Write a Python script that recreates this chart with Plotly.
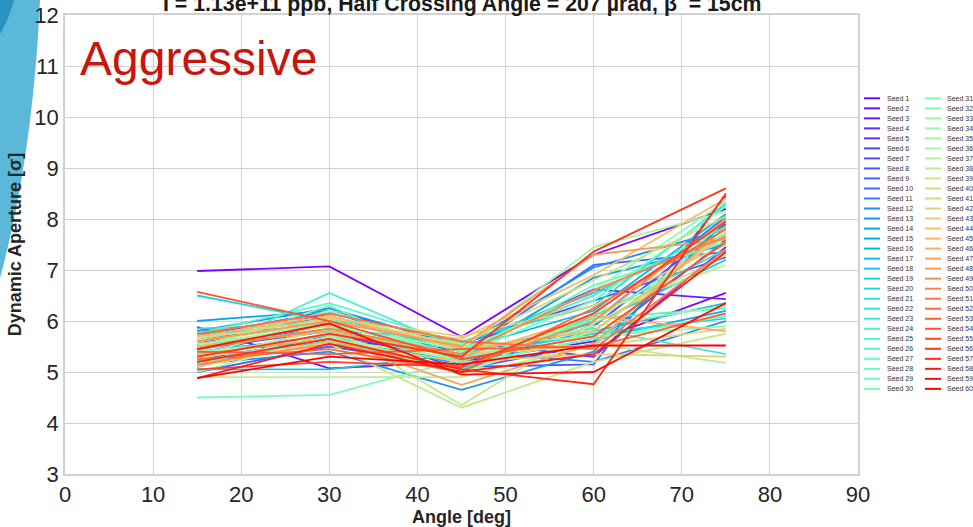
import math
import plotly.graph_objects as go

# ---------------- data ----------------
angles = [15, 30, 45, 60, 75]
seed_names = [f"Seed {i}" for i in range(1, 61)]

da_15 = [6.98, 5.88, 5.20, 5.55, 5.10, 5.35, 5.70, 5.00, 5.45, 5.25,
         5.60, 5.80, 5.15, 6.00, 5.40, 5.75, 5.30, 5.05, 6.50, 5.85,
         5.50, 5.20, 5.65, 5.35, 5.55, 5.75, 5.25, 5.45, 5.60, 4.50,
         5.30, 5.50, 5.15, 5.70, 5.40, 5.00, 4.90, 5.30, 5.55, 5.60,
         5.25, 5.65, 5.10, 5.45, 5.70, 5.50, 5.35, 5.60, 5.15, 5.45,
         5.75, 5.25, 5.40, 6.57, 5.05, 5.30, 5.20, 4.88, 5.45, 4.88]
da_30 = [7.07, 5.07, 5.60, 6.15, 5.75, 5.95, 6.20, 5.50, 5.80, 5.65,
         6.10, 6.25, 5.40, 6.20, 5.70, 5.90, 5.55, 5.05, 6.00, 5.95,
         5.85, 5.60, 6.05, 6.55, 5.80, 6.35, 5.85, 6.30, 5.95, 4.55,
         6.10, 6.20, 5.75, 5.90, 5.65, 5.70, 4.90, 5.55, 5.90, 6.00,
         5.85, 6.05, 5.60, 5.95, 6.10, 5.80, 5.65, 6.00, 5.55, 5.85,
         6.15, 5.45, 5.35, 6.00, 5.20, 5.75, 5.65, 5.55, 5.95, 5.30]
da_45 = [5.69, 5.20, 5.45, 5.60, 5.20, 5.05, 5.55, 5.10, 5.35, 5.00,
         5.40, 5.50, 4.65, 5.30, 5.15, 5.45, 5.25, 5.35, 5.55, 5.30,
         5.60, 5.05, 5.40, 5.45, 5.20, 5.55, 5.30, 5.15, 5.35, 5.25,
         5.50, 5.40, 5.00, 5.45, 5.25, 4.95, 4.90, 4.30, 4.35, 5.55,
         5.35, 5.70, 5.20, 5.65, 5.45, 5.30, 4.75, 5.50, 5.10, 5.35,
         5.60, 5.00, 5.45, 5.25, 5.10, 5.30, 5.05, 5.00, 4.95, 5.15]
da_60 = [7.30, 5.60, 6.62, 5.30, 5.90, 5.55, 6.40, 5.15, 7.10, 6.00,
         5.20, 7.05, 5.40, 6.85, 5.65, 6.20, 5.80, 5.95, 6.55, 5.75,
         6.30, 6.10, 5.85, 6.50, 6.05, 5.50, 6.70, 5.65, 6.40, 6.00,
         5.70, 6.60, 5.80, 7.45, 5.90, 6.15, 5.55, 5.20, 5.95, 6.80,
         5.50, 6.30, 5.35, 6.90, 5.80, 6.10, 5.55, 7.30, 6.00, 6.60,
         5.45, 6.25, 5.50, 5.70, 6.15, 7.36, 4.76, 5.35, 5.00, 5.52]
da_75 = [8.20, 6.55, 6.43, 7.45, 7.90, 7.60, 7.25, 8.45, 7.35, 8.05,
         6.00, 7.80, 7.95, 7.50, 6.20, 8.10, 6.35, 7.20, 7.70, 6.05,
         8.30, 7.40, 5.35, 7.85, 6.25, 8.00, 7.55, 6.10, 8.25, 7.65,
         5.90, 8.35, 7.75, 8.15, 6.30, 7.10, 5.18, 5.75, 7.30, 8.05,
         5.85, 7.50, 5.30, 8.40, 7.70, 5.80, 7.85, 7.60, 8.00, 7.65,
         7.40, 7.80, 6.15, 7.55, 7.95, 8.60, 8.50, 7.35, 6.35, 5.52]

x_ticks = [0, 10, 20, 30, 40, 50, 60, 70, 80, 90]
y_ticks = [3, 4, 5, 6, 7, 8, 9, 10, 11, 12]

title_text = "I = 1.13e+11 ppb, Half Crossing Angle = 207 \u00b5rad, \u03b2<sup>*</sup> = 15cm"
x_title = "Angle [deg]"
y_title = "Dynamic Aperture [\u03c3]"
label_text = "Aggressive"

# ---------------- layout geometry ----------------
W, H = 973, 527
PL, PR, PT, PB = 65, 858, 15, 474
FONT = "Liberation Sans, Arial, sans-serif"


def px(xp):
    return (xp - PL) / (PR - PL)


def py(yp):
    return (PB - yp) / (PB - PT)


def rainbow(t):
    r = min(1.0, max(0.0, abs(2 * t - 0.5)))
    g = min(1.0, max(0.0, math.sin(math.pi * t)))
    b = min(1.0, max(0.0, math.cos(math.pi * t / 2)))
    return f"rgb({round(r*255)},{round(g*255)},{round(b*255)})"


n = len(seed_names)
colors = [rainbow(i / (n - 1)) for i in range(n)]

fig = go.Figure()
for i, name in enumerate(seed_names):
    fig.add_trace(go.Scatter(
        x=angles,
        y=[da_15[i], da_30[i], da_45[i], da_60[i], da_75[i]],
        mode="lines", name=name,
        line=dict(color=colors[i], width=1.8),
        showlegend=False,
    ))

shapes = []
annotations = []

# decorative blue swoosh at top-left
shapes.append(dict(
    type="path", xref="paper", yref="paper", layer="below",
    path=(f"M {px(0)},{py(0)} L {px(40)},{py(0)} "
          f"C {px(36)},{py(90)} {px(24)},{py(190)} {px(0)},{py(278)} Z"),
    fillcolor="#5cb8d8", line=dict(width=0),
))
shapes.append(dict(
    type="path", xref="paper", yref="paper", layer="below",
    path=(f"M {px(0)},{py(0)} L {px(14)},{py(0)} "
          f"C {px(11)},{py(12)} {px(6)},{py(24)} {px(0)},{py(34)} Z"),
    fillcolor="#2a93c4", line=dict(width=0),
))

# manual two-column legend
for i, name in enumerate(seed_names):
    col = i // 30
    row = i % 30
    yy = 98.3 + 10.02 * row
    x0 = 864 if col == 0 else 925
    shapes.append(dict(
        type="line", xref="paper", yref="paper",
        x0=px(x0), x1=px(x0 + 16), y0=py(yy), y1=py(yy),
        line=dict(color=colors[i], width=2),
    ))
    annotations.append(dict(
        xref="paper", yref="paper", x=px(x0 + 20.5), y=py(yy),
        xanchor="left", yanchor="middle", showarrow=False,
        text=name, font=dict(size=7, color="#333333", family=FONT),
    ))

# title (partially cut off at the top)
annotations.append(dict(
    xref="paper", yref="paper", x=0.5, y=py(2.5),
    xanchor="center", yanchor="middle", showarrow=False,
    text=f"<b>{title_text}</b>", font=dict(size=21.3, color="#1a1a1a", family=FONT),
))
annotations.append(dict(
    xref="paper", yref="paper", x=px(78), y=py(59),
    xanchor="left", yanchor="middle", showarrow=False,
    text=label_text, font=dict(size=48, color="#c8160c", family=FONT),
))

grid = "#d2d2d2"
fig.update_layout(
    width=W, height=H,
    margin=dict(l=PL, r=W - PR, t=PT, b=H - PB, autoexpand=False),
    paper_bgcolor="white", plot_bgcolor="white",
    font=dict(family=FONT, color="#262626"),
    shapes=shapes, annotations=annotations,
    showlegend=False,
    xaxis=dict(
        range=[0, 90], tickvals=x_ticks, ticktext=[str(v) for v in x_ticks],
        showgrid=True, gridcolor=grid, gridwidth=1.3, automargin=False,
        showline=True, linecolor=grid, linewidth=1.5, mirror=True,
        zeroline=False, ticks="", tickfont=dict(size=22, color="#262626"),
        title=dict(text=f"<b>{x_title}</b>", font=dict(size=18, color="#262626"), standoff=2),
    ),
    yaxis=dict(
        range=[3, 12], tickvals=y_ticks, ticktext=[str(v) for v in y_ticks],
        showgrid=True, gridcolor=grid, gridwidth=1.3, automargin=False,
        showline=True, linecolor=grid, linewidth=1.5, mirror=True,
        zeroline=False, ticks="", tickfont=dict(size=22, color="#262626"),
        title=dict(text=f"<b>{y_title}</b>", font=dict(size=18, color="#262626"), standoff=8),
    ),
)

fig.write_html(
    "out.html",
    config={"displayModeBar": False},
    post_script="document.body.style.margin='0';document.body.style.overflow='hidden';",
)
